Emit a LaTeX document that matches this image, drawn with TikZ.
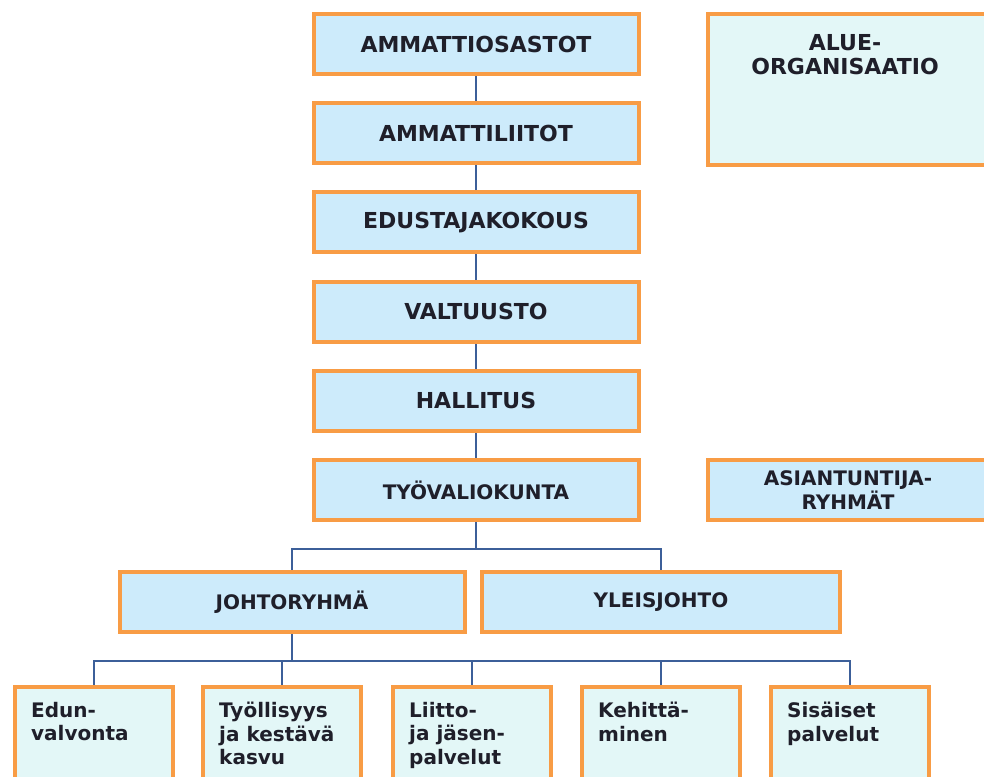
\documentclass[tikz,border=0pt]{standalone}
\usepackage{fontspec}
\setmainfont{DejaVu Sans}
\usetikzlibrary{positioning,backgrounds}

\definecolor{rim}{HTML}{F89C45}
\definecolor{skyfill}{HTML}{CDEBFB}
\definecolor{mintfill}{HTML}{E3F7F7}
\definecolor{wire}{HTML}{3C5F99}
\definecolor{ink}{HTML}{1F1F2A}

\begin{document}
\begin{tikzpicture}[x=1pt,y=-1pt,node distance=89.2pt,on grid,
    font=\bfseries\fontsize{20}{23.5}\selectfont,text=ink,
    organ/.style={draw=rim,line width=4pt,fill=skyfill,align=center,
      minimum width=325pt,minimum height=60pt,inner sep=0pt},
    big/.style={font=\bfseries\fontsize{22}{24}\selectfont},
    side/.style={organ,minimum width=280pt},
    unit/.style={draw=rim,line width=4pt,fill=mintfill,
      minimum width=158pt,minimum height=120pt,inner sep=0pt},
    unittext/.style={anchor=north west,align=left,inner sep=0pt},
    wiring/.style={draw=wire,line width=1.4pt}]
   \path[use as bounding box] (0,0) rectangle (984,776);
   \clip (0,0) rectangle (984,776);
   % main column
   \node[organ,big] (osastot) at (476,44) {AMMATTIOSASTOT};
   \node[organ,big] (liitot) [below=of osastot] {AMMATTILIITOT};
   \node[organ,big] (kokous) [below=of liitot] {EDUSTAJAKOKOUS};
   \node[organ,big] (valtuusto) [below=of kokous] {VALTUUSTO};
   \node[organ,big] (hallitus) [below=of valtuusto] {HALLITUS};
   \node[organ] (tyo) [below=of hallitus] {TYÖVALIOKUNTA};
   \node[organ,minimum width=345pt] (johto) [below left=112pt and 184pt of tyo] {JOHTORYHMÄ};
   \node[organ,minimum width=358pt] (yleis) [below right=112pt and 185pt of tyo] {YLEISJOHTO};
   % right side
   \node[side,fill=mintfill,minimum height=151pt] (alue) at (848,89.5) {};
   \node[unittext,big,anchor=north,align=center] (aluetext) at ([xshift=-3pt,yshift=-22pt]alue.north) {ALUE-\\ORGANISAATIO};
   \node[side] (asiant) at (848,490) {ASIANTUNTIJA-\\RYHMÄT};
   % units
   \node[unit] (edun) at (94,747) {};
   \node[unit] (tyollisyys) [right=188pt of edun] {};
   \node[unit] (liitto) [right=190pt of tyollisyys] {};
   \node[unit] (kehitys) [right=189pt of liitto] {};
   \node[unit] (sisaiset) [right=189pt of kehitys] {};
   \node[unittext] (eduntext) at ([xshift=18pt,yshift=-17pt]edun.north west) {Edun-\\valvonta};
   \node[unittext] (tyollisyystext) at ([xshift=18pt,yshift=-17pt]tyollisyys.north west) {Työllisyys\\ja kestävä\\kasvu};
   \node[unittext] (liittotext) at ([xshift=18pt,yshift=-17pt]liitto.north west) {Liitto-\\ja jäsen-\\palvelut};
   \node[unittext] (kehitystext) at ([xshift=18pt,yshift=-17pt]kehitys.north west) {Kehittä-\\minen};
   \node[unittext] (sisaisettext) at ([xshift=18pt,yshift=-17pt]sisaiset.north west) {Sisäiset\\palvelut};
   \begin{scope}[on background layer]
    \draw[wiring] (osastot) -- (liitot) -- (kokous) -- (valtuusto) -- (hallitus) -- (tyo);
    \draw[wiring] (tyo.south) -- ++(0,27) -| (johto.north);
    \draw[wiring] (tyo.south) -- ++(0,27) -| (yleis.north);
    \draw[wiring] (johto.south) -- ++(0,27) -| (edun.north);
    \draw[wiring] (johto.south) -- ++(0,27) -| (tyollisyys.north);
    \draw[wiring] (johto.south) -- ++(0,27) -| (liitto.north);
    \draw[wiring] (johto.south) -- ++(0,27) -| (kehitys.north);
    \draw[wiring] (johto.south) -- ++(0,27) -| (sisaiset.north);
   \end{scope}
\end{tikzpicture}
\end{document}
